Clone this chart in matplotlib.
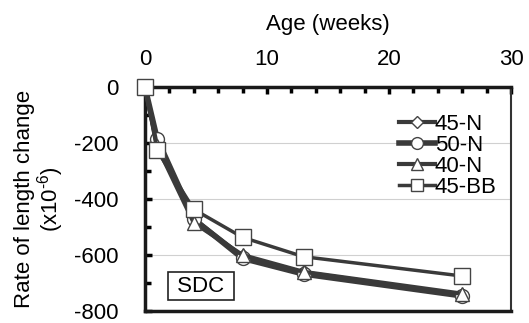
import matplotlib
matplotlib.use('Agg')
import matplotlib.pyplot as plt
from matplotlib.ticker import MultipleLocator

plt.rcParams['font.family'] = ['Liberation Sans', 'DejaVu Sans']
plt.rcParams['axes.unicode_minus'] = False
plt.rcParams['mathtext.fontset'] = 'custom'
plt.rcParams['mathtext.rm'] = 'Liberation Sans'

weeks = [0, 1, 4, 8, 13, 26]
s45n = [0, -205, -470, -605, -662, -742]
s50n = [0, -185, -472, -612, -668, -746]
s40n = [0, -212, -485, -600, -660, -738]
s45bb = [0, -227, -437, -537, -606, -675]

series = [
    ('45-N', s45n, 'D', 3.0, 7),
    ('50-N', s50n, 'o', 4.0, 10),
    ('40-N', s40n, '^', 3.0, 10),
    ('45-BB', s45bb, 's', 2.5, 11),
]

fig = plt.figure(figsize=(5.29, 3.23), dpi=100)
ax = fig.add_axes([0.274, 0.037, 0.692, 0.694])

c = '#3a3a3a'
for name, vals, m, lw, ms in series:
    ax.plot(weeks, vals, color=c, lw=lw, marker=m, ms=ms,
            mfc='white', mec='#444444', mew=1.0, label=name, clip_on=False, zorder=3)

ax.set_xlim(0, 30)
ax.set_ylim(-800, 0)
ax.xaxis.tick_top()
ax.xaxis.set_label_position('top')
ax.xaxis.set_major_locator(MultipleLocator(10))
ax.xaxis.set_minor_locator(MultipleLocator(2))
ax.yaxis.set_major_locator(MultipleLocator(200))
ax.yaxis.set_minor_locator(MultipleLocator(100))
ax.tick_params(which='both', direction='in', width=2.5, labelsize=16)
ax.tick_params(axis='x', which='both', pad=12)
ax.tick_params(axis='y', which='both', pad=19)
ax.tick_params(which='major', length=5)
ax.tick_params(which='minor', length=4)
ax.tick_params(axis='x', which='both', top=True, bottom=False)
ax.tick_params(axis='y', which='both', left=True, right=False)
ax.grid(axis='y', color='#d0d0d0', lw=0.8)
ax.set_axisbelow(True)

for side in ['top', 'left', 'bottom']:
    ax.spines[side].set_linewidth(2.5)
    ax.spines[side].set_color('#1a1a1a')
ax.spines['right'].set_linewidth(1.5)
ax.spines['right'].set_color('#333333')

ax.set_xlabel('Age (weeks)', fontsize=16, labelpad=14)
ax.set_ylabel('Rate of length change\n(x10$^{\\text{-6}}$)', fontsize=16, labelpad=6, linespacing=1.0)

ax.text(4.6, -711, ' SDC ', fontsize=16, ha='center', va='center',
        bbox=dict(boxstyle='square,pad=0.15', fc='white', ec='#222222', lw=1.2))

leg = ax.legend(loc='upper right', bbox_to_anchor=(0.985, 0.92), frameon=False,
                fontsize=16, handlelength=1.6, handletextpad=0.0, markerscale=0.85,
                labelspacing=0.0, borderaxespad=0.0)

fig.savefig('out.png', dpi=100)
